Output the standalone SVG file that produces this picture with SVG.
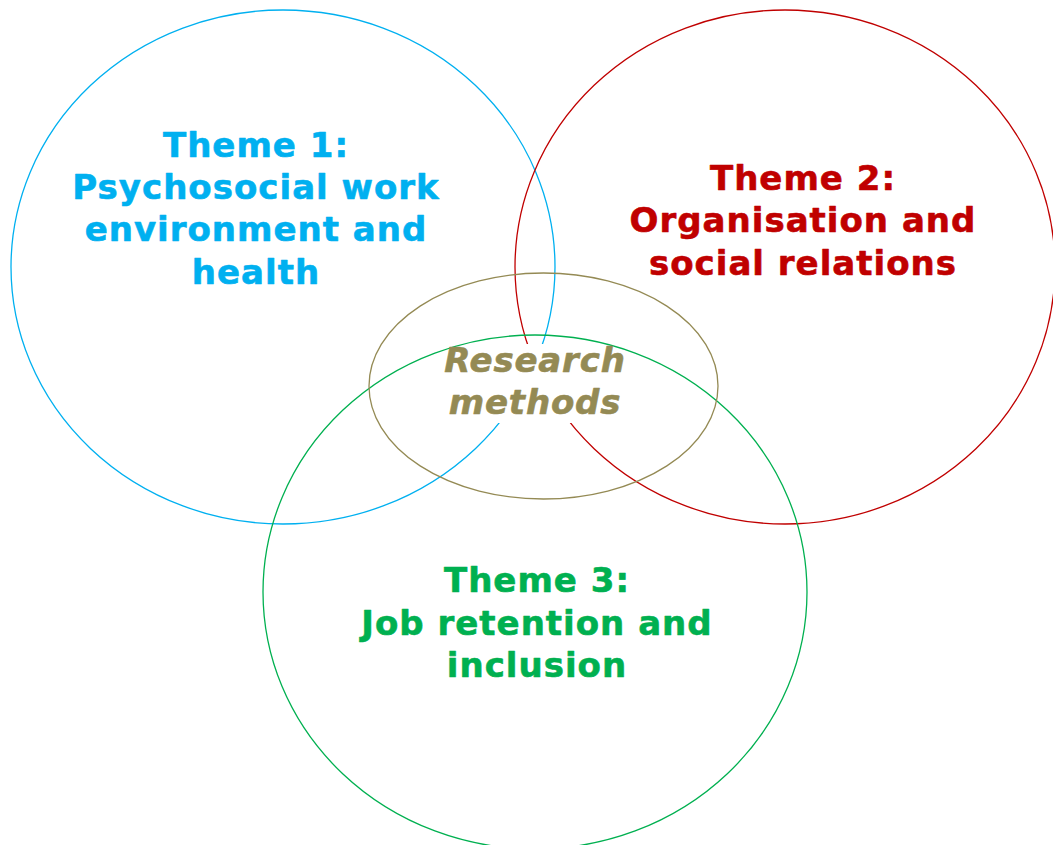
<svg xmlns="http://www.w3.org/2000/svg" width="1053" height="845" viewBox="0 0 1053 845">
  <style>
    .ring { fill: none; stroke-width: 1.3; }
    .label { font-family: "DejaVu Sans", Verdana, sans-serif; font-weight: bold; font-size: 34px; letter-spacing: 1px; text-anchor: middle; stroke-width: 0.6; stroke-linejoin: round; }
    .core { font-style: italic; letter-spacing: 0.8px; }
  </style>
  <rect width="1053" height="845" fill="#ffffff"/>

  <g id="theme1-ring">
    <ellipse class="ring" cx="283" cy="267" rx="272" ry="257" stroke="#00B0F0"/>
  </g>
  <g id="theme2-ring">
    <ellipse class="ring" cx="785" cy="267" rx="270" ry="257" stroke="#C00000"/>
  </g>
  <!-- white plate behind the central label -->
  <rect x="442" y="344" width="185" height="79" fill="#ffffff"/>
  <g id="theme3-ring">
    <ellipse class="ring" cx="535" cy="592" rx="272" ry="257" stroke="#00B050"/>
  </g>
  <g id="methods-ring">
    <ellipse class="ring" cx="543.5" cy="386" rx="174.5" ry="113" stroke="#948A54"/>
  </g>

  <g id="theme1" class="label" fill="#00B0F0" stroke="#00B0F0">
    <text x="256" y="157">Theme 1:</text>
    <text x="256" y="199">Psychosocial work</text>
    <text x="256" y="241">environment and</text>
    <text x="256" y="284">health</text>
  </g>
  <g id="theme2" class="label" fill="#C00000" stroke="#C00000">
    <text x="803" y="190">Theme 2:</text>
    <text x="803" y="232">Organisation and</text>
    <text x="803" y="275">social relations</text>
  </g>
  <g id="theme3" class="label" fill="#00B050" stroke="#00B050">
    <text x="537" y="592">Theme 3:</text>
    <text x="537" y="635">Job retention and</text>
    <text x="537" y="677">inclusion</text>
  </g>
  <g id="methods" class="label core" fill="#948A54" stroke="#948A54">
    <text x="535" y="372">Research</text>
    <text x="535" y="414">methods</text>
  </g>
</svg>
